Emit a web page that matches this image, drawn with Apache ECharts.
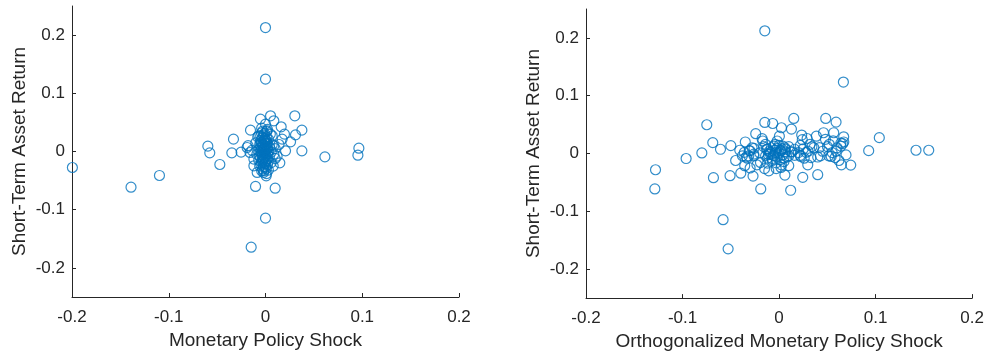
<!DOCTYPE html>
<html>
<head>
<meta charset="utf-8">
<script src="https://cdn.jsdelivr.net/npm/echarts@6/dist/echarts.min.js"></script>
<style>html,body{margin:0;padding:0;background:#fff}#c{width:987px;height:356px}</style>
</head>
<body>
<div id="c"></div>
<script>
// Tick labels
const xTicks = [-0.2, -0.1, 0, 0.1, 0.2];
const yTicks = [-0.2, -0.1, 0, 0.1, 0.2];
const leftXName = 'Monetary Policy Shock';
const rightXName = 'Orthogonalized Monetary Policy Shock';
const yName = 'Short-Term Asset Return';

// Left panel: monetary policy shock (x) vs short-term asset return (y)
const leftX = [0, 0, 0, -0.0148, -0.0103, 0.010, -0.1996, -0.139, -0.1096, -0.0596, -0.0576, -0.0472, -0.0331, -0.0348, -0.0252, -0.0155, -0.0052, 0.0052, 0.0086, 0.0162, 0.0303, 0.0376, 0.031, 0.0259, 0.0207, 0.0376, 0.0614, 0.0965, 0.0955, 0.0148, 0.0196, 0.0172, -0.012, -0.0086, 0.0007, -0.0017, -0.019, -0.016, -0.012, 0.0017, 0, 0.0069, 0.0086, 0.0086, 0.0059, -0.005, -0.0069,
  -0.004, -0.002, 0.001, 0.003, -0.005, -0.001, 0.002, -0.003, 0.000, 0.004, -0.006, -0.002, 0.001, 0.003, -0.004, -0.001, 0.002, -0.003, 0.000, 0.004, -0.005, -0.002, 0.001, 0.003, -0.004, -0.001, 0.002, -0.006, 0.000, -0.003, 0.003, -0.002, 0.001, -0.004, 0.002, -0.008, 0.006, -0.007, 0.007, -0.001, 0.000, -0.003, 0.002, 0.005, -0.008, 0.008, -0.009, 0.010, 0.014, 0.012, 0.010, -0.010, -0.014, -0.018,
  -0.003, -0.001, 0.001, -0.005, -0.003, 0.000, -0.004, -0.002, 0.001, -0.006, -0.004, -0.001, 0.002, -0.005, -0.002, 0.000, -0.004, -0.001, 0.002, -0.006, -0.003, 0.000, -0.005, -0.002, 0.001, -0.004, -0.001, -0.003, 0.001, -0.002];
const leftY = [0.213, 0.1243, -0.1145, -0.1644, -0.060, -0.063, -0.0275, -0.0613, -0.0412, 0.0092, -0.0023, -0.0223, 0.0212, -0.0023, -0.0011, 0.0367, 0.0556, 0.0613, 0.0527, 0.0424, 0.0613, 0.0367, 0.0286, 0.0166, 0.0011, 0.0011, -0.0092, 0.0057, -0.0063, -0.0195, 0.0298, 0.0212, -0.0246, -0.036, -0.0418, -0.033, 0.0069, -0.0017, -0.013, 0.0355, 0.047, 0.027, 0.0097, -0.0046, -0.019, 0.0155, 0.027,
  0.032, 0.028, 0.025, 0.021, 0.019, 0.017, 0.014, 0.012, 0.010, 0.008, 0.006, 0.005, 0.003, 0.001, -0.001, -0.002, -0.004, -0.006, -0.008, -0.009, -0.011, -0.013, -0.015, -0.017, -0.019, -0.021, -0.023, -0.025, -0.027, -0.030, -0.032, -0.036, -0.038, 0.040, 0.038, 0.002, -0.001, -0.015, 0.012, 0.022, -0.018, 0.002, 0.008, 0.030, 0.025, -0.025, -0.005, 0.005, 0.012, -0.008, -0.012, 0.015, 0.002, 0.010,
  0.035, 0.031, 0.034, 0.027, 0.024, 0.020, 0.015, 0.011, 0.018, 0.012, 0.007, 0.007, 0.004, 0.002, 0.000, -0.003, -0.005, -0.010, -0.012, -0.008, -0.016, -0.020, -0.022, -0.026, -0.029, -0.033, 0.003, -0.012, 0.013, 0.019];

// Right panel: orthogonalized shock (x) vs short-term asset return (y)
const rightX = [-0.0148, 0.0666, -0.0749, -0.0687, -0.0607, -0.050, -0.080, -0.0963, -0.128, -0.1287, -0.068, -0.0508, -0.058, -0.0528, -0.019, 0.012, -0.0397, -0.027, -0.0148, -0.0066, 0.0152, 0.0483, 0.059, 0.0566, 0.0669, 0.1038, 0.0928, 0.1418, 0.155, 0.0742, 0.0645, 0.0693, 0.040, 0.0245, 0.006, 0.0297, 0.010, -0.0242, -0.035, 0.0128, 0.0024, 0.0234, 0.0386, 0.029, 0.048, 0.0659, 0.067, 0.064, 0.055, 0.0514, 0.058, 0.0428, 0.032, 0.036, 0.020, 0.0224, 0.016, -0.0169, -0.0176, -0.026, -0.0314, -0.038, -0.0407, -0.0356, -0.023, -0.012, -0.0107, -0.003, 0.0024, -0.0073, -0.0038, 0.0014, 0.0038, 0.0066, -0.002, -0.0055, 0.0003, -0.009, -0.014, -0.013, 0.010, 0.0134, -0.0262, -0.030, -0.0193, 0.0417, 0.046,
  -0.008, -0.004, 0.000, 0.004, -0.002, 0.003, 0.006, -0.006, 0.008, -0.010, 0.001, -0.004, 0.010, 0.012, -0.012, 0.005, -0.016, 0.016, -0.020, 0.022, 0.026, 0.030, 0.034, -0.028, -0.033, 0.024, 0.040, 0.045, 0.052, 0.060, 0.062, -0.045, -0.030, 0.002, -0.015,
  -0.012, -0.009, -0.005, -0.002, 0.002, 0.005, -0.007, -0.011, 0.000, 0.006, -0.014, -0.003, -0.036, -0.031, -0.026, -0.034, 0.022, 0.028, 0.033, 0.025, 0.050, 0.056, 0.064, 0.059, 0.054];
const rightY = [0.2123, 0.1236, 0.0498, 0.0189, 0.0074, 0.0137, 0.001, -0.0086, -0.028, -0.0612, -0.0418, -0.0383, -0.1144, -0.1648, -0.0612, -0.0635, -0.034, -0.039, 0.0538, 0.052, 0.0607, 0.0607, 0.0544, 0.036, 0.029, 0.0275, 0.005, 0.0057, 0.0057, -0.020, -0.0195, -0.0023, -0.0366, -0.0412, -0.0372, -0.0195, -0.021, 0.0343, 0.020, 0.0423, 0.0446, 0.032, 0.030, 0.026, 0.0246, 0.0172, 0.020, 0.013, 0.0017, -0.004, -0.007, -0.004, 0.016, 0.0103, 0.0017, -0.005, 0.0074, 0.0217, 0.0258, 0.009, -0.004, -0.004, 0.0057, -0.021, -0.0195, -0.0166, -0.030, -0.026, -0.0195, -0.0086, 0.0017, 0.0046, 0.013, 0.0074, 0.0217, 0.013, 0.030, -0.001, -0.004, 0.0074, -0.004, 0.003, -0.001, 0.0046, -0.0155, 0.0103, 0.036,
  0.010, 0.006, 0.002, -0.002, -0.006, 0.008, 0.003, -0.003, -0.006, 0.004, -0.011, 0.016, 0.012, 0.003, -0.008, -0.014, 0.012, -0.003, 0.001, 0.014, -0.008, 0.004, 0.012, 0.010, -0.008, 0.024, -0.006, 0.004, 0.016, 0.010, -0.012, -0.012, -0.025, -0.024, -0.026,
  0.008, 0.002, -0.004, 0.009, 0.005, -0.008, -0.012, -0.002, 0.014, 0.010, 0.016, -0.016, 0.002, 0.005, -0.004, -0.006, -0.003, 0.002, -0.007, 0.008, 0.012, 0.022, 0.018, 0.004, -0.005];

const blue = '#0072BD';
const ink = '#262626';
const font = 'Liberation Sans, Arial, Helvetica, sans-serif';

function pairs(xs, ys) { return xs.map((x, i) => [x, ys[i]]); }

function xAx(idx, name) {
  return {
    gridIndex: idx, type: 'value', min: -0.2, max: 0.2,
    name: name, nameLocation: 'middle', nameGap: 33,
    nameTextStyle: { color: ink, fontSize: 19, fontFamily: font },
    axisLine: { show: true, onZero: false, lineStyle: { color: ink, width: 1 } },
    axisTick: { show: true, inside: true, length: 4, customValues: xTicks, lineStyle: { color: ink } },
    axisLabel: { color: ink, fontSize: 17, fontFamily: font, margin: 12, customValues: xTicks, showMinLabel: true, showMaxLabel: true },
    splitLine: { show: false }
  };
}
function yAx(idx) {
  return {
    gridIndex: idx, type: 'value', min: -0.25, max: 0.25,
    name: yName, nameLocation: 'middle', nameGap: 43,
    nameTextStyle: { color: ink, fontSize: 19, fontFamily: font },
    axisLine: { show: true, onZero: false, lineStyle: { color: ink, width: 1 } },
    axisTick: { show: true, inside: true, length: 4, customValues: yTicks, lineStyle: { color: ink } },
    axisLabel: { color: ink, fontSize: 17, fontFamily: font, margin: 7, customValues: yTicks },
    splitLine: { show: false }
  };
}
function ser(idx, data) {
  return {
    type: 'scatter', xAxisIndex: idx, yAxisIndex: idx, data: data,
    symbol: 'circle', symbolSize: 10,
    itemStyle: { color: 'rgba(0,0,0,0)', borderColor: blue, borderWidth: 1.2 },
    emphasis: { disabled: true }
  };
}

const chart = echarts.init(document.getElementById('c'), null, { renderer: 'canvas' });
chart.setOption({
  animation: false,
  backgroundColor: '#fff',
  grid: [
    { left: 72, top: 6, width: 387, height: 291, containLabel: false },
    { left: 586, top: 9, width: 387, height: 291, containLabel: false }
  ],
  xAxis: [xAx(0, leftXName), xAx(1, rightXName)],
  yAxis: [yAx(0), yAx(1)],
  series: [ser(0, pairs(leftX, leftY)), ser(1, pairs(rightX, rightY))]
});
</script>
</body>
</html>
